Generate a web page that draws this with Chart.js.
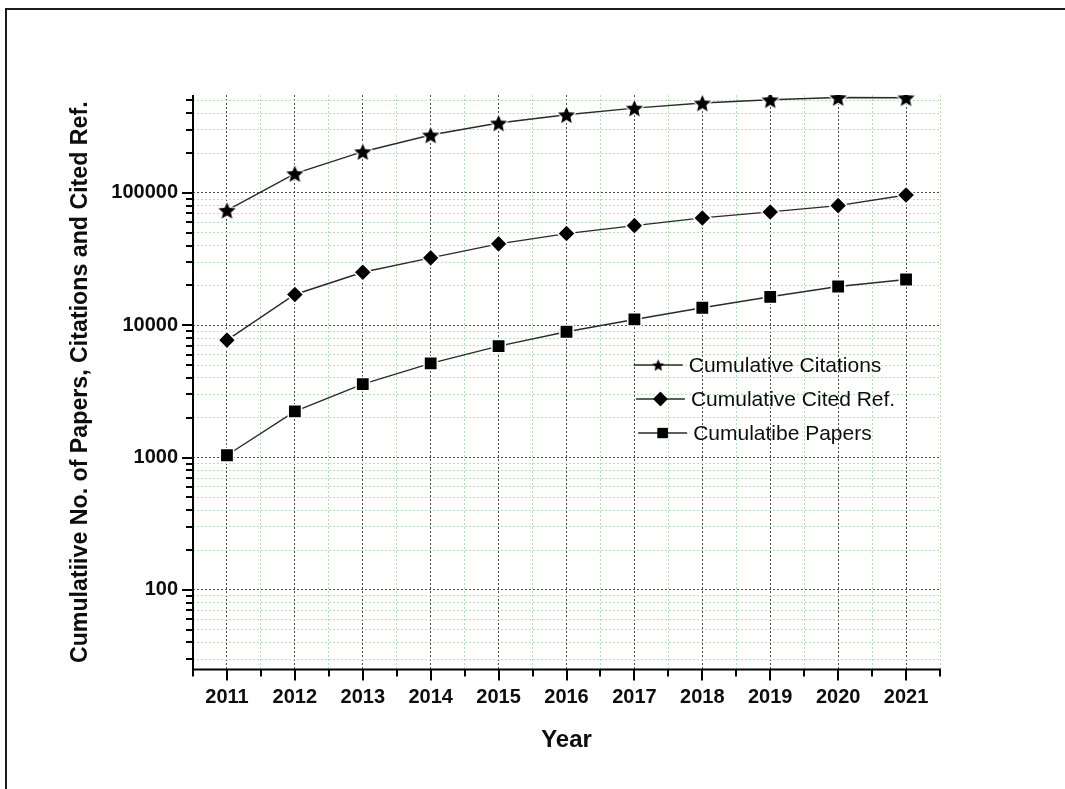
<!DOCTYPE html>
<html>
<head>
<meta charset="utf-8">
<script src="https://cdn.jsdelivr.net/npm/chart.js@4.4.1/dist/chart.umd.min.js"></script>
<style>
  html, body { margin: 0; padding: 0; background: #fff; }
  canvas { display: block; }
</style>
</head>
<body>
<canvas id="chart" width="1065" height="789" style="width:1065px;height:789px"></canvas>
<script>
// Cumulative growth per year (log scale)
const years = [2011, 2012, 2013, 2014, 2015, 2016, 2017, 2018, 2019, 2020, 2021];
const citations = [73900, 139900, 205000, 274000, 337600, 390000, 438000, 478000, 506000, 526000, 524000];
const citedRefs = [7720, 17080, 25170, 32310, 41230, 49300, 56640, 64760, 71880, 80220, 96580];
const papers = [1041, 2236, 3594, 5148, 6956, 8932, 11060, 13560, 16410, 19630, 22170];
const seriesNames = ['Cumulative Citations', 'Cumulative Cited Ref.', 'Cumulatibe Papers'];
const yDecades = [100, 1000, 10000, 100000];
const yTickLabels = ['100', '1000', '10000', '100000'];
const xTickLabels = ['2011', '2012', '2013', '2014', '2015', '2016', '2017', '2018', '2019', '2020', '2021'];
const yRange = [25, 550000];
const xRange = [2010.5, 2021.5];

const FONT = '"Liberation Sans", Arial, Helvetica, sans-serif';
const INK = '#0d0d0d';

// tick positions: major at decades / years, minor at 2..9 x decade / half years
const yTicks = [];
[10, 100, 1000, 10000, 100000].forEach(d => {
  for (let m = 1; m <= 9; m++) {
    const v = d * m;
    if (v >= yRange[0] && v <= yRange[1]) yTicks.push(v);
  }
});
const xTicks = [];
years.forEach(y => { xTicks.push(y - 0.5, y); });
xTicks.push(years[years.length - 1] + 0.5);

function starCanvas(R, r, halo) {
  const s = Math.ceil(2 * R + 2 * halo + 2);
  const c = document.createElement('canvas');
  c.width = c.height = s;
  const g = c.getContext('2d');
  g.translate(s / 2, s / 2 + R * 0.1);
  g.beginPath();
  for (let k = 0; k < 10; k++) {
    const a = -Math.PI / 2 + k * Math.PI / 5;
    const rad = k % 2 ? r : R;
    g.lineTo(Math.cos(a) * rad, Math.sin(a) * rad);
  }
  g.closePath();
  if (halo) {
    g.lineJoin = 'round';
    g.lineWidth = halo * 2;
    g.strokeStyle = '#fff';
    g.stroke();
  }
  g.fillStyle = '#000';
  g.fill();
  return c;
}
const starMark = starCanvas(9, 4.1, 1.2);
const starLegend = starCanvas(6.4, 2.9, 0);

const toPoints = arr => years.map((x, i) => ({ x, y: arr[i] }));

const lineStyle = { borderColor: '#2a2a2a', borderWidth: 1.4, tension: 0, fill: false };

const axesPlugin = {
  id: 'axesAndLegend',
  beforeDraw(chart) {
    const { ctx, width, height } = chart;
    ctx.save();
    ctx.fillStyle = '#fff';
    ctx.fillRect(0, 0, width, height);
    // outer frame
    ctx.fillStyle = '#1c1c1c';
    ctx.fillRect(5, 8, width, 2);
    ctx.fillRect(5, 8, 2, height);
    ctx.restore();
  },
  afterDraw(chart) {
    const { ctx, chartArea: a, scales: { x, y } } = chart;
    ctx.save();
    ctx.strokeStyle = '#000';
    ctx.lineWidth = 2;
    ctx.beginPath();
    ctx.moveTo(a.left, a.top);
    ctx.lineTo(a.left, a.bottom);
    ctx.lineTo(a.right + 1, a.bottom);
    ctx.stroke();
    // tick marks
    ctx.lineWidth = 2;
    ctx.beginPath();
    yTicks.forEach(v => {
      const p = Math.round(y.getPixelForValue(v));
      const len = yDecades.includes(v) ? 11 : 7;
      ctx.moveTo(a.left - len, p);
      ctx.lineTo(a.left, p);
    });
    xTicks.forEach(v => {
      const p = Math.round(x.getPixelForValue(v));
      const len = Number.isInteger(v) ? 11 : 7;
      ctx.moveTo(p, a.bottom);
      ctx.lineTo(p, a.bottom + len);
    });
    ctx.stroke();

    // legend
    const lx = a.left + (a.right - a.left) * 0.59;
    const ly = a.top + (a.bottom - a.top) * 0.47;
    chart.data.datasets.forEach((ds, i) => {
      const yy = ly + i * 34;
      const x0 = lx + i * 2.2;
      ctx.strokeStyle = '#2a2a2a';
      ctx.lineWidth = 1.4;
      ctx.beginPath();
      ctx.moveTo(x0, yy);
      ctx.lineTo(x0 + 49, yy);
      ctx.stroke();
      const cx = x0 + 24.5;
      if (i === 0) {
        ctx.drawImage(starLegend, cx - starLegend.width / 2, yy - starLegend.height / 2);
      } else {
        ctx.fillStyle = '#000';
        Chart.helpers.drawPoint(ctx, { pointStyle: ds.pointStyle, radius: 7.2, borderWidth: 0, rotation: 0 }, cx, yy);
        ctx.fill();
      }
      ctx.fillStyle = INK;
      ctx.font = '21px ' + FONT;
      ctx.textAlign = 'left';
      ctx.textBaseline = 'middle';
      ctx.fillText(ds.label, x0 + 55, yy + 1);
    });
    ctx.restore();
  }
};

const gridColor = c => (c.tick && c.tick.major) ? '#4a4a4a' : '#b3e0b3';

new Chart(document.getElementById('chart'), {
  type: 'line',
  data: {
    datasets: [
      Object.assign({ label: seriesNames[0], data: toPoints(citations), pointStyle: starMark }, lineStyle),
      Object.assign({ label: seriesNames[1], data: toPoints(citedRefs), pointStyle: 'rectRot', pointRadius: 8.8,
        pointBackgroundColor: '#000', pointBorderColor: '#fff', pointBorderWidth: 1.5 }, lineStyle),
      Object.assign({ label: seriesNames[2], data: toPoints(papers), pointStyle: 'rect', pointRadius: 9.4,
        pointBackgroundColor: '#000', pointBorderColor: '#fff', pointBorderWidth: 1.5 }, lineStyle)
    ]
  },
  options: {
    responsive: false,
    animation: false,
    devicePixelRatio: 1,
    layout: { padding: { left: 67, top: 95, right: 125, bottom: 34 } },
    plugins: { legend: { display: false }, tooltip: { enabled: false } },
    scales: {
      x: {
        type: 'linear',
        min: xRange[0],
        max: xRange[1],
        afterBuildTicks: s => { s.ticks = xTicks.map(v => ({ value: v, major: Number.isInteger(v) })); },
        afterFit: s => { s.height = 85.5; },
        ticks: {
          autoSkip: false, maxRotation: 0, padding: 16, color: INK,
          font: { family: FONT, size: 20, weight: 'bold' },
          callback: v => { const i = years.indexOf(v); return i >= 0 ? xTickLabels[i] : ''; }
        },
        grid: { drawTicks: false, color: gridColor, lineWidth: 1 },
        border: { display: false, dash: [2, 2] },
        title: { display: true, text: 'Year', color: INK, padding: 0, font: { family: FONT, size: 24, weight: 'bold' } }
      },
      y: {
        type: 'logarithmic',
        min: yRange[0],
        max: yRange[1],
        afterBuildTicks: s => { s.ticks = yTicks.map(v => ({ value: v, major: yDecades.includes(v) })); },
        afterFit: s => { s.width = 126; },
        ticks: {
          autoSkip: false, padding: 15, color: INK,
          font: { family: FONT, size: 20, weight: 'bold' },
          callback: v => { const i = yDecades.indexOf(v); return i >= 0 ? yTickLabels[i] : ''; }
        },
        grid: { drawTicks: false, color: gridColor, lineWidth: 1 },
        border: { display: false, dash: [2, 2] },
        title: { display: true, text: 'Cumulatiive No. of Papers, Citations and Cited Ref.', color: INK,
          padding: { top: 0, bottom: 0, y: 0 }, font: { family: FONT, size: 23.2, weight: 'bold' } }
      }
    }
  },
  plugins: [axesPlugin]
});
</script>
</body>
</html>
